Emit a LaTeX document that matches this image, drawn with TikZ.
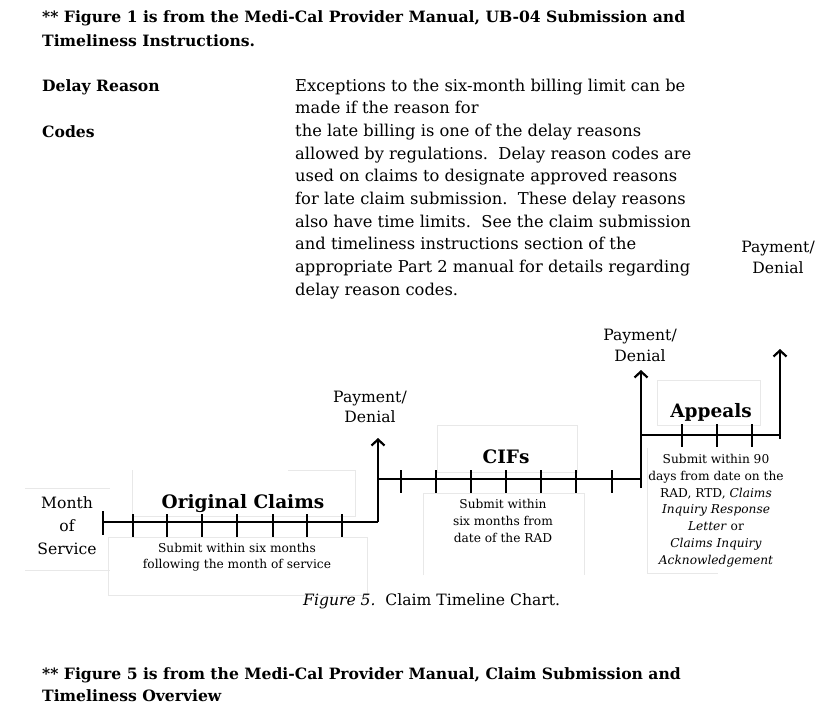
\documentclass[tikz,border=0pt]{standalone}
\usepackage{fontspec}
\setmainfont{DejaVu Serif}
\usetikzlibrary{arrows.meta}
\tikzset{
  txt/.style={inner sep=0pt, anchor=base west},
  hdr/.style={txt, font=\bfseries\fontsize{15.6}{20}\selectfont},
  body/.style={txt, font=\fontsize{16.3}{20}\selectfont},
  lab/.style={inner sep=0pt, anchor=base, font=\fontsize{15.6}{18}\selectfont},
  small/.style={inner sep=0pt, anchor=base, font=\fontsize{12.2}{14}\selectfont},
  big/.style={inner sep=0pt, anchor=base, font=\bfseries\fontsize{18.5}{20}\selectfont},
  axis/.style={line width=2.6pt},
  tick/.style={line width=1.3pt},
  up/.style={line width=2.6pt, -{Straight Barb[length=6pt,width=13pt,line width=2.2pt]}},
  faint/.style={draw=black!9, line width=0.7pt},
}
\begin{document}
\begin{tikzpicture}[x=1pt,y=-1pt]
\useasboundingbox (0,0) rectangle (831,724);
\fill[white] (0,0) rectangle (831,724);

% headers
\node[hdr] (h1) at (42,22) {** Figure 1 is from the Medi-Cal Provider Manual, UB-04 Submission and};
\node[hdr] (h2) at (42,46) {Timeliness Instructions.};
\node[hdr] (dr) at (42,91) {Delay Reason};
\node[hdr] (cd) at (42,137) {Codes};

% paragraph
\node[body] (p1) at (295,91) {Exceptions to the six-month billing limit can be};
\node[body] (p2) at (295,113.7) {made if the reason for};
\node[body] (p3) at (295,136.4) {the late billing is one of the delay reasons};
\node[body] (p4) at (295,159.1) {allowed by regulations.\ \ Delay reason codes are};
\node[body] (p5) at (295,181.8) {used on claims to designate approved reasons};
\node[body] (p6) at (295,204.5) {for late claim submission.\ \ These delay reasons};
\node[body] (p7) at (295,227.2) {also have time limits.\ \ See the claim submission};
\node[body] (p8) at (295,249.9) {and timeliness instructions section of the};
\node[body] (p9) at (295,272.6) {appropriate Part 2 manual for details regarding};
\node[body] (p10) at (295,295.3) {delay reason codes.};

\node[lab] (pd0a) at (778,252) {Payment/};
\node[lab] (pd0b) at (778,273) {Denial};

% faint text boxes
\draw[faint] (25,488) -- (110,488);
\draw[faint] (25,570) -- (110,570);
\draw[faint] (288,470) -- (355,470) -- (355,516) -- (132,516) -- (132,470);
\draw[faint] (108,537) rectangle (367,595);
\draw[faint] (437,425) rectangle (577,472);
\draw[faint] (423,575) -- (423,493) -- (584,493) -- (584,575);
\draw[faint] (657,380) rectangle (760,425);
\draw[faint] (647,448) -- (647,573) -- (718,573);

% timeline coordinates
\coordinate (s1a) at (103,522);
\coordinate (s1b) at (378,522);
\coordinate (v1t) at (378,438);
\coordinate (s2a) at (378,479);
\coordinate (s2b) at (641,479);
\coordinate (v2b) at (641,488);
\coordinate (v2t) at (641,370);
\coordinate (s3a) at (641,435);
\coordinate (s3b) at (780,435);
\coordinate (v3b) at (780,439);
\coordinate (v3t) at (780,349);
\coordinate (lb1) at (103,511);
\coordinate (lb2) at (103,535);

\draw[axis, line cap=butt] (lb1) -- (lb2);
\draw[axis] (s1a) -- (s1b);
\draw[up] (s1b) -- (v1t);
\draw[axis] (s2a) -- (s2b);
\draw[up] (v2b) -- (v2t);
\draw[axis] (s3a) -- (s3b);
\draw[up] (v3b) -- (v3t);

\foreach \x in {133,167,202,237,273,307,342}
  \draw[tick] (\x,514) -- (\x,537);
\foreach \x in {401,436,471,506,541,576,612}
  \draw[tick] (\x,470) -- (\x,493);
\foreach \x in {682,717,752}
  \draw[tick] (\x,424) -- (\x,447);

% labels
\node[lab] (ms1) at (67,508) {Month};
\node[lab] (ms2) at (67,531) {of};
\node[lab] (ms3) at (67,554) {Service};

\node[big] (oc) at (243,508) {Original Claims};
\node[small] (os1) at (237,552) {Submit within six months};
\node[small] (os2) at (237,568.5) {following the month of service};

\node[lab] (pd1a) at (370,402) {Payment/};
\node[lab] (pd1b) at (370,422) {Denial};

\node[big] (cif) at (506,463) {CIFs};
\node[small] (cs1) at (503,508) {Submit within};
\node[small] (cs2) at (503,525) {six months from};
\node[small] (cs3) at (503,542) {date of the RAD};

\node[lab] (pd2a) at (640,340) {Payment/};
\node[lab] (pd2b) at (640,361) {Denial};

\node[big] (ap) at (711,417) {Appeals};
\node[small] (as1) at (716,463) {Submit within 90};
\node[small] (as2) at (716,480) {days from date on the};
\node[small] (as3) at (716,497) {RAD, RTD, \textit{Claims}};
\node[small] (as4) at (716,513.5) {\textit{Inquiry Response}};
\node[small] (as5) at (716,530.5) {\textit{Letter} or};
\node[small] (as6) at (716,547) {\textit{Claims Inquiry}};
\node[small] (as7) at (716,564) {\textit{Acknowledgement}};

\node[txt, font=\fontsize{15.6}{18}\selectfont] (cap) at (303,605) {\textit{Figure 5.}\ \ Claim Timeline Chart.};

\node[hdr] (b1) at (42,679) {** Figure 5 is from the Medi-Cal Provider Manual, Claim Submission and};
\node[hdr] (b2) at (42,701) {Timeliness Overview};
\end{tikzpicture}
\end{document}
